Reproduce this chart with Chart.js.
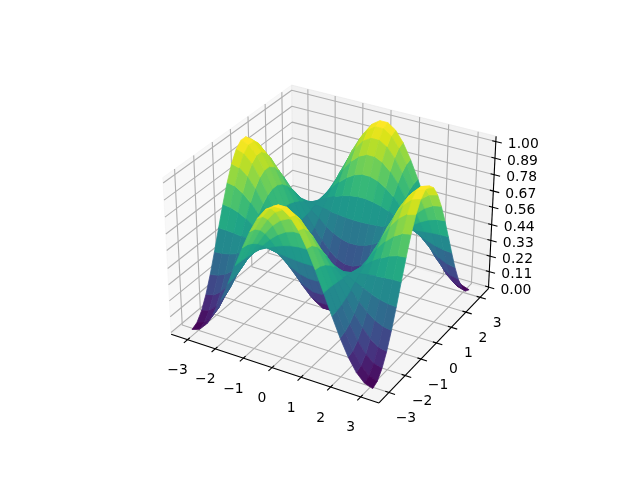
<!DOCTYPE html>
<html><head><meta charset="utf-8">
<style>html,body{margin:0;padding:0;background:#fff}#w{width:640px;height:480px}</style>
<script src="https://cdn.jsdelivr.net/npm/chart.js@4"></script></head>
<body><div id="w"><canvas id="c" width="640" height="480"></canvas></div>
<script>
const xTicks=[-3,-2,-1,0,1,2,3];
const yTicks=[-3,-2,-1,0,1,2,3];
const zTicks=[0,0.11,0.22,0.33,0.44,0.56,0.67,0.78,0.89,1];
const gridX=[-3.142,-2.868,-2.595,-2.322,-2.049,-1.776,-1.503,-1.229,-0.956,-0.683,-0.41,-0.137,0.137,0.41,0.683,0.956,1.229,1.503,1.776,2.049,2.322,2.595,2.868,3.142];
const gridY=gridX.slice();
const A0=[0,.019,.073,.159,.27,.398,.534,.667,.788,.888,.959,.995,.995,.959,.888,.788,.667,.534,.398,.27,.159,.073,.019,0];
const A1=[.019,.036,.089,.171,.279,.402,.533,.661,.778,.874,.942,.977,.977,.942,.874,.778,.661,.533,.402,.279,.171,.089,.036,.019];
const A2=[.073,.089,.135,.208,.303,.413,.529,.643,.746,.831,.892,.923,.923,.892,.831,.746,.643,.529,.413,.303,.208,.135,.089,.073];
const A3=[.159,.171,.208,.267,.343,.431,.523,.614,.697,.765,.813,.838,.838,.813,.765,.697,.614,.523,.431,.343,.267,.208,.171,.159];
const A4=[.27,.279,.303,.343,.394,.453,.516,.577,.633,.678,.711,.728,.728,.711,.678,.633,.577,.516,.453,.394,.343,.303,.279,.27];
const A5=[.398,.402,.413,.431,.453,.479,.507,.534,.559,.579,.593,.601,.601,.593,.579,.559,.534,.507,.479,.453,.431,.413,.402,.398];
const A6=[.534,.533,.529,.523,.516,.507,.498,.489,.48,.474,.469,.466,.466,.469,.474,.48,.489,.498,.507,.516,.523,.529,.533,.534];
const A7=[.667,.661,.643,.614,.577,.534,.489,.444,.403,.37,.346,.334,.334,.346,.37,.403,.444,.489,.534,.577,.614,.643,.661,.667];
const A8=[.788,.778,.746,.697,.633,.559,.48,.403,.334,.276,.236,.214,.214,.236,.276,.334,.403,.48,.559,.633,.697,.746,.778,.788];
const A9=[.888,.874,.831,.765,.678,.579,.474,.37,.276,.199,.144,.116,.116,.144,.199,.276,.37,.474,.579,.678,.765,.831,.874,.888];
const A10=[.959,.942,.892,.813,.711,.593,.469,.346,.236,.144,.079,.046,.046,.079,.144,.236,.346,.469,.593,.711,.813,.892,.942,.959];
const A11=[.995,.977,.923,.838,.728,.601,.466,.334,.214,.116,.046,.009,.009,.046,.116,.214,.334,.466,.601,.728,.838,.923,.977,.995];
const zRows=[A0,A1,A2,A3,A4,A5,A6,A7,A8,A9,A10,A11,A11,A10,A9,A8,A7,A6,A5,A4,A3,A2,A1,A0];
const viridis=['#440154','#481567','#482677','#453781','#404788','#39568c','#33638d','#2d708e','#287d8e','#238a8d','#1f968b','#20a387','#29af7f','#3cbb75','#55c667','#73d055','#95d840','#b8de29','#dce319','#fde725'];

const L=3.6, zLo=-0.012, zHi=1.035;
const H=[0.6535,0.6535,0.49], DIST=10;
const U=[0.866,0.5,0], V=[-0.25,0.433,0.866], W=[0.433,-0.75,0.5];
const SCALE=1820, CX=333, CY=235.6;
function box(x,y,z){return [x/L*H[0],y/L*H[1],((z-zLo)/(zHi-zLo)*2-1)*H[2]];}
const dot=(a,b)=>a[0]*b[0]+a[1]*b[1]+a[2]*b[2];
function proj(x,y,z){const p=box(x,y,z),d=DIST-dot(W,p);return {x:dot(U,p)/d,y:dot(V,p)/d};}
function depth(x,y,z){return dot(W,box(x,y,z));}
function hex(h){return [1,3,5].map(i=>parseInt(h.substr(i,2),16));}
function cmap(t){const f=Math.max(0,Math.min(1,t))*(viridis.length-1),i=Math.min(viridis.length-2,Math.floor(f)),r=f-i,a=hex(viridis[i]),b=hex(viridis[i+1]);
 return 'rgb('+a.map((v,k)=>Math.round(v+(b[k]-v)*r)).join(',')+')';}

const ds=[];
function poly(pts,fill,stroke,w){ds.push({data:pts.map(p=>proj(p[0],p[1],p[2])),showLine:true,fill:fill?'shape':false,backgroundColor:fill||'transparent',borderColor:stroke,borderWidth:w,borderJoinStyle:'round',pointRadius:0,pointHoverRadius:0,tension:0});}
// panes
poly([[-L,-L,zLo],[-L,L,zLo],[-L,L,zHi],[-L,-L,zHi],[-L,-L,zLo]],'rgba(242,242,242,0.5)','rgba(242,242,242,0.5)',1);
poly([[-L,L,zLo],[L,L,zLo],[L,L,zHi],[-L,L,zHi],[-L,L,zLo]],'rgba(230,230,230,0.5)','rgba(230,230,230,0.5)',1);
poly([[-L,-L,zLo],[L,-L,zLo],[L,L,zLo],[-L,L,zLo],[-L,-L,zLo]],'rgba(236,236,236,0.5)','rgba(236,236,236,0.5)',1);
// grid
const gc='#b0b0b0';
xTicks.forEach(t=>poly([[t,-L,zLo],[t,L,zLo],[t,L,zHi]],null,gc,0.8*1.39));
yTicks.forEach(t=>poly([[L,t,zLo],[-L,t,zLo],[-L,t,zHi]],null,gc,0.8*1.39));
zTicks.forEach(t=>poly([[-L,-L,t],[-L,L,t],[L,L,t]],null,gc,0.8*1.39));
// axis lines and tick marks
const ak='#000';
poly([[-L,-L,zLo],[L,-L,zLo]],null,ak,1.1);
poly([[L,-L,zLo],[L,L,zLo]],null,ak,1.1);
poly([[L,L,zLo],[L,L,zHi]],null,ak,1.1);
xTicks.forEach(t=>poly([[t,-L+0.12,zLo],[t,-L-0.2,zLo]],null,ak,1.1));
yTicks.forEach(t=>poly([[L-0.12,t,zLo],[L+0.2,t,zLo]],null,ak,1.1));
zTicks.forEach(t=>poly([[L-0.12,L,t],[L+0.2,L,t]],null,ak,1.1));
// surface faces, far to near
const faces=[];
for(let i=0;i<gridX.length-1;i++)for(let j=0;j<gridY.length-1;j++){
 const q=[[gridX[i],gridY[j],zRows[i][j]],[gridX[i+1],gridY[j],zRows[i+1][j]],[gridX[i+1],gridY[j+1],zRows[i+1][j+1]],[gridX[i],gridY[j+1],zRows[i][j+1]]];
 const mz=q.reduce((s,p)=>s+p[2],0)/4, md=q.reduce((s,p)=>s+depth(p[0],p[1],p[2]),0)/4;
 faces.push({q,mz,md});
}
faces.sort((a,b)=>a.md-b.md);
const mn=Math.min(...faces.map(f=>f.mz)),mx=Math.max(...faces.map(f=>f.mz));
faces.forEach(f=>{const c=cmap((f.mz-mn)/(mx-mn));poly([...f.q,f.q[0]],c,c,0.75);});

const fmt=v=>String(v).replace('-','\u2212');
const tickText={
 id:'tickText',
 afterDatasetsDraw(ch){
  const c=ch.ctx,sx=ch.scales.x,sy=ch.scales.y;
  c.save();c.fillStyle='#000';c.font='13.9px "DejaVu Sans"';c.textBaseline='middle';
  const at=(p)=>[sx.getPixelForValue(p.x),sy.getPixelForValue(p.y)];
  c.textAlign='center';
  xTicks.forEach(t=>{const [a,b]=at(proj(t,-L,zLo));c.fillText(fmt(t),a-10,b+31);});
  yTicks.forEach(t=>{const [a,b]=at(proj(L,t,zLo));c.fillText(fmt(t),a+17,b+26);});
  c.textAlign='left';
  zTicks.forEach(t=>{const [a,b]=at(proj(L,L,t));c.fillText(t.toFixed(2),a+12,b+3);});
  c.restore();
 }
};
new Chart(document.getElementById('c'),{
 type:'scatter',
 data:{datasets:ds.reverse()},
 plugins:[tickText],
 options:{responsive:false,animation:false,parsing:false,normalized:true,events:[],
  layout:{padding:0},
  plugins:{legend:{display:false},tooltip:{enabled:false},title:{display:false}},
  scales:{
   x:{type:'linear',display:false,min:-CX/SCALE,max:(640-CX)/SCALE},
   y:{type:'linear',display:false,min:-(480-CY)/SCALE,max:CY/SCALE}
  }}
});
</script></body></html>
